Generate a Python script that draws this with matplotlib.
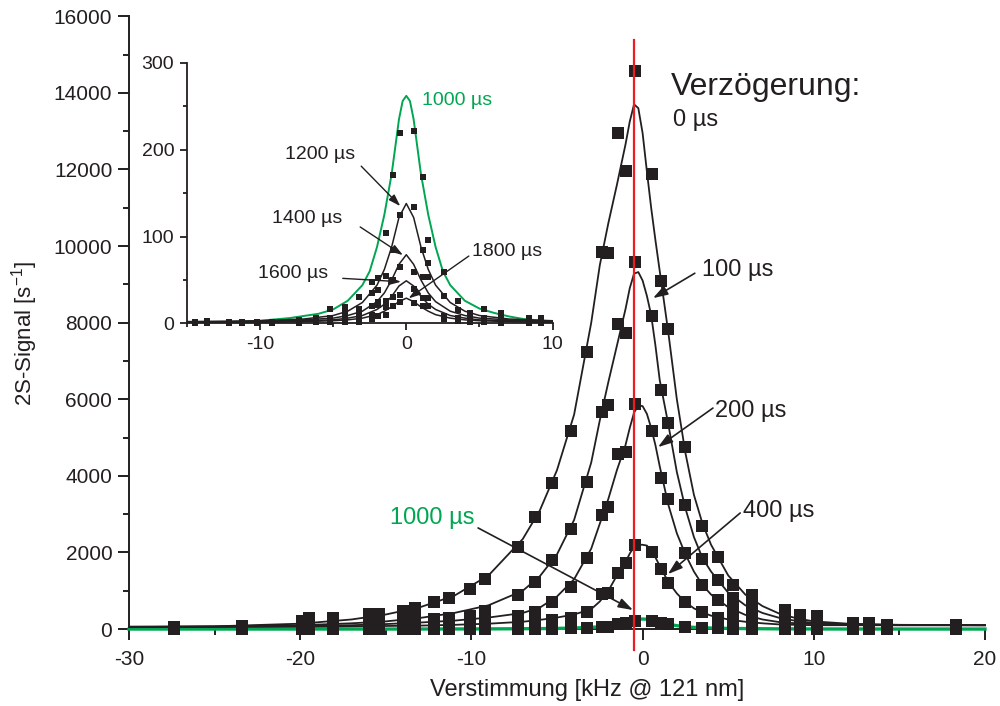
import numpy as np
import matplotlib
matplotlib.use('Agg')
import matplotlib.pyplot as plt
from matplotlib.ticker import MultipleLocator

plt.rcParams['font.family'] = ['Liberation Sans', 'DejaVu Sans']
plt.rcParams['mathtext.fontset'] = 'custom'
plt.rcParams['mathtext.rm'] = 'Liberation Sans'
plt.rcParams['mathtext.default'] = 'regular'
plt.rcParams['axes.unicode_minus'] = False

BLACK = '#231f20'
GREEN = '#00a651'
RED = '#ed1c24'

# Messpunkte Hauptbild: Verstimmung [kHz] und 2S-Signal [1/s]
det_main = [-27.4, -23.4, -19.9, -19.5, -18.1, -16.0, -15.4, -14.0, -13.3, -12.2,
            -11.3, -10.1, -9.2, -7.3, -6.3, -5.3, -4.2, -3.25, -2.35, -2.05,
            -1.43, -0.97, -0.44, 0.55, 1.08, 1.48, 2.45, 3.47, 4.4, 5.3,
            6.4, 8.3, 9.2, 10.2, 12.3, 13.2, 14.3, 18.3]
sig_0 = [60, 80, 200, 280, 280, 380, 400, 480, 560, 700,
         800, 1040, 1300, 2140, 2920, 3810, 5170, 7230, 9840, 9820,
         12950, 11960, 14570, 11880, 9090, 7830, 4750, 2690, 1880, 1150,
         880, 500, 370, 350, 150, 150, 100, 100]
sig_100 = [40, 50, 120, 150, 150, 200, 220, 220, 230, 270,
           290, 330, 470, 900, 1240, 1800, 2600, 3840, 5670, 5850,
           7960, 7730, 9580, 8170, 6240, 5380, 3240, 1830, 1280, 810,
           600, 280, 220, 200, 100, 100, 70, 60]
sig_200 = [20, 30, 60, 80, 80, 120, 120, 140, 120, 150,
           170, 200, 250, 330, 440, 700, 1100, 1850, 2980, 3190,
           4570, 4620, 5870, 5170, 3940, 3390, 1980, 1150, 760, 500,
           330, 160, 120, 110, 60, 60, 40, 40]
sig_400 = [10, 20, 30, 40, 40, 60, 60, 70, 60, 80,
           90, 110, 130, 160, 180, 230, 300, 440, 910, 940,
           1460, 1720, 2190, 2010, 1570, 1200, 700, 440, 300, 230,
           170, 80, 60, 60, 30, 30, 20, 20]
sig_1000 = [0, 0, 0, 0, 0, 0, 0, 0, 0, 0,
            0, 0, 0, 10, 10, 10, 20, 30, 50, 60,
            130, 170, 220, 220, 170, 120, 60, 30, 20, 10,
            10, 0, 0, 0, 0, 0, 0, 0]

# Fitkurven
fit_x = [-30, -25, -20, -17, -15, -13, -11, -9, -7, -6, -5, -4, -3, -2.5, -2, -1.5, -1, -0.75,
         -0.5, -0.25, 0, 0.25, 0.5, 0.75, 1, 1.5, 2, 2.5, 3, 3.5, 4, 5, 6, 7, 8, 9, 10, 12, 15, 20]
fit_0 = [50, 70, 140, 250, 380, 570, 870, 1400, 2350, 3100, 4150, 5600, 8000, 9500, 10600,
         11600, 12650, 13250, 13700, 13600, 12950, 11950, 11000, 10150, 9350, 7750, 6000, 4600,
         3500, 2750, 2200, 1400, 900, 600, 400, 280, 200, 140, 110, 100]
fit_100 = [60, 70, 100, 150, 200, 290, 420, 620, 1000, 1380, 1950, 2850, 4350, 5450, 6450,
           7400, 8350, 8900, 9280, 9320, 9100, 8700, 8200, 7400, 6500, 5350, 4100, 3150,
           2400, 1850, 1500, 950, 620, 420, 290, 210, 160, 120, 105, 100]
fit_200 = [60, 60, 80, 100, 130, 170, 220, 300, 420, 560, 850, 1300, 2100, 2750, 3400,
           4150, 4800, 5250, 5650, 5840, 5820, 5620, 5250, 4800, 4250, 3250, 2500, 1950,
           1500, 1150, 900, 570, 370, 250, 180, 150, 130, 110, 100, 100]
fit_400 = [50, 55, 60, 70, 80, 90, 110, 140, 190, 240, 300, 380, 520, 720, 1000,
           1400, 1750, 1970, 2150, 2200, 2200, 2180, 2050, 1870, 1650, 1230, 930, 700,
           540, 430, 350, 250, 190, 150, 120, 110, 100, 100, 100, 100]

green_x = [-30, -20, -15, -12, -10, -8, -6, -5, -4, -3, -2.5, -2, -1.5, -1, -0.5, -0.25,
           0, 0.25, 0.5, 1, 1.5, 2, 2.5, 3, 4, 5, 6, 7, 8, 10, 15, 20]
fit_1000 = [0, 0, 0.5, 1.5, 3, 6, 11, 16, 26, 44, 60, 88, 125, 172, 235, 256,
            262, 256, 235, 172, 125, 88, 60, 44, 26, 17, 12, 8, 5, 2, 0.5, 0]

# Ausschnitt: lange Verzoegerungen
ins_fit_x = [-15, -10, -7, -5, -4, -3, -2, -1.5, -1, -0.5, 0, 0.5, 1, 1.5, 2, 3, 4, 5, 7, 10]
fit_1200 = [2, 3, 5, 9, 14, 24, 44, 62, 88, 122, 138, 122, 88, 62, 44, 24, 14, 9, 5, 3]
fit_1400 = [1, 2, 4, 6, 9, 14, 25, 35, 50, 68, 79, 68, 50, 35, 25, 14, 9, 6, 4, 2]
fit_1600 = [1, 2, 3, 4, 6, 9, 16, 22, 31, 43, 49, 43, 31, 22, 16, 9, 6, 4, 3, 2]
fit_1800 = [1, 1, 2, 3, 4, 6, 10, 14, 19, 25, 29, 25, 19, 14, 10, 6, 4, 3, 2, 1]

det_ins = [-14.4, -13.6, -12.1, -11.2, -10.2, -9.2, -7.3, -6.2, -5.2, -4.2, -3.2, -2.35, -1.96,
           -1.37, -0.91, -0.41, 0.55, 1.15, 1.48, 2.55, 3.54, 4.38, 5.3, 6.44, 8.38, 9.18]
ins_1000 = [1, 3, 1, 1, 1, 2, 4, 6, 16, 19, 30, 48, 52, 104, 171, 219, 222, 168, 96, 59, 26, 12, 17, 12, 6, 6]
ins_1200 = [0, 1, 0, 1, 1, 1, 3, 6, 6, 12, 17, 35, 38, 55, 84, 125, 134, 84, 70, 31, 15, 9, 6, 8, 1, 1]
ins_1400 = [0, 0, 0, 0, 0, 1, 2, 2, 3, 8, 10, 20, 25, 26, 50, 65, 59, 53, 53, 8, 6, 2, 6, 1, 1, 1]
ins_1600 = [0, 0, 0, 0, 0, 0, 1, 1, 2, 4, 5, 10, 21, 19, 30, 33, 39, 29, 29, 8, 6, 2, 3, 1, 0, 0]
ins_1800 = [0, 0, 0, 0, 0, 0, 0, 1, 1, 2, 2, 5, 8, 10, 20, 25, 23, 20, 20, 5, 3, 1, 1, 0, 0, 0]

red_x = -0.5

fig = plt.figure(figsize=(10, 7.06), dpi=100)

# --- Hauptbild ---
ax = fig.add_axes([0.129, 0.109, 0.856, 0.868])
ax.plot(green_x, fit_1000, color=GREEN, lw=2.4, zorder=2.6, clip_on=False)
for fit in [fit_0, fit_100, fit_200, fit_400]:
    ax.plot(fit_x, fit, color=BLACK, lw=1.3, zorder=3, clip_on=False)
for sig in [sig_1000, sig_400, sig_200, sig_100, sig_0]:
    ax.plot(det_main, sig, 's', ms=9, color=BLACK, mew=0, zorder=4, clip_on=False)
ax.axvline(red_x, ymin=-0.034, ymax=0.961, color=RED, lw=1.6, zorder=6, clip_on=False)

ax.set_xlim(-30, 20)
ax.set_ylim(0, 16000)
ax.xaxis.set_major_locator(MultipleLocator(10))
ax.xaxis.set_minor_locator(MultipleLocator(5))
ax.yaxis.set_major_locator(MultipleLocator(2000))
ax.yaxis.set_minor_locator(MultipleLocator(1000))
for s in ['top', 'right']:
    ax.spines[s].set_visible(False)
for s in ['left', 'bottom']:
    ax.spines[s].set_linewidth(1.4)
    ax.spines[s].set_color(BLACK)
ax.tick_params(which='major', direction='out', length=8, width=1.4, labelsize=15,
               color=BLACK, labelcolor=BLACK, pad=4)
ax.tick_params(axis='x', which='major', pad=7)
ax.tick_params(which='minor', direction='out', length=4.5, width=1.4, color=BLACK)

fig.text(0.025, 1 - 333 / 706, '2S-Signal [s$^{-1}$]', rotation=90, ha='center', va='center',
         fontsize=16, color=BLACK)
fig.text(0.587, 1 - 690 / 706, 'Verstimmung [kHz @ 121 nm]', ha='center', va='center',
         fontsize=17, color=BLACK)

arrow_main = dict(arrowstyle='-|>,head_length=0.55,head_width=0.18', color=BLACK, lw=1.2,
                  shrinkA=0, shrinkB=0, mutation_scale=16)
ax.text(1.66, 14150, 'Verzögerung:', fontsize=23, ha='left', va='center', color=BLACK)
ax.text(1.78, 13290, '0 µs', fontsize=17, ha='left', va='center', color=BLACK)
ax.text(3.47, 9370, '100 µs', fontsize=17, ha='left', va='center', color=BLACK)
ax.annotate('', xy=(0.61, 8640), xytext=(3.05, 9290), arrowprops=arrow_main)
ax.text(4.23, 5700, '200 µs', fontsize=17, ha='left', va='center', color=BLACK)
ax.annotate('', xy=(0.90, 4750), xytext=(4.11, 5770), arrowprops=arrow_main)
ax.text(5.86, 3080, '400 µs', fontsize=17, ha='left', va='center', color=BLACK)
ax.annotate('', xy=(1.48, 1435), xytext=(5.70, 3030), arrowprops=arrow_main)
ax.text(-14.75, 2900, '1000 µs', fontsize=17, ha='left', va='center', color=GREEN)
ax.annotate('', xy=(-0.56, 496), xytext=(-9.61, 2640), arrowprops=arrow_main)

# --- Ausschnitt ---
ax2 = fig.add_axes([0.1867, 0.542, 0.366, 0.369])
ax2.patch.set_alpha(0)
ax2.plot(green_x, fit_1000, color=GREEN, lw=1.4, zorder=2)
for fit in [fit_1200, fit_1400, fit_1600, fit_1800]:
    ax2.plot(ins_fit_x, fit, color=BLACK, lw=1.1, zorder=3)
for sig in [ins_1800, ins_1600, ins_1400, ins_1200, ins_1000]:
    ax2.plot(det_ins, sig, 's', ms=5, color=BLACK, mew=0, zorder=4, clip_on=False)
ax2.set_xlim(-15, 10)
ax2.set_ylim(0, 300)
ax2.set_xticks([-10, 0, 10])
ax2.xaxis.set_minor_locator(MultipleLocator(5))
ax2.yaxis.set_major_locator(MultipleLocator(100))
ax2.yaxis.set_minor_locator(MultipleLocator(50))
for s in ['top', 'right']:
    ax2.spines[s].set_visible(False)
for s in ['left', 'bottom']:
    ax2.spines[s].set_linewidth(1.3)
    ax2.spines[s].set_color(BLACK)
ax2.tick_params(which='major', direction='out', length=5, width=1.3, labelsize=14,
                color=BLACK, labelcolor=BLACK, pad=4)
ax2.tick_params(which='minor', direction='out', length=3, width=1.3, color=BLACK)

arrow_ins = dict(arrowstyle='-|>,head_length=0.55,head_width=0.18', color=BLACK, lw=1.0,
                 shrinkA=0, shrinkB=0, mutation_scale=13)
ax2.text(1.08, 257, '1000 µs', fontsize=14, ha='left', va='center', color=GREEN)
ax2.text(-8.29, 194, '1200 µs', fontsize=14, ha='left', va='center', color=BLACK)
ax2.annotate('', xy=(-0.41, 135), xytext=(-3.08, 181), arrowprops=arrow_ins)
ax2.text(-9.2, 121, '1400 µs', fontsize=14, ha='left', va='center', color=BLACK)
ax2.annotate('', xy=(-0.23, 78.6), xytext=(-3.15, 111), arrowprops=arrow_ins)
ax2.text(-10.1, 57.6, '1600 µs', fontsize=14, ha='left', va='center', color=BLACK)
ax2.annotate('', xy=(-0.36, 47.9), xytext=(-4.34, 51.8), arrowprops=arrow_ins)
ax2.text(4.5, 82.4, '1800 µs', fontsize=14, ha='left', va='center', color=BLACK)
ax2.annotate('', xy=(0.16, 28.8), xytext=(4.27, 77.5), arrowprops=arrow_ins)

fig.savefig('out.png', dpi=100)
